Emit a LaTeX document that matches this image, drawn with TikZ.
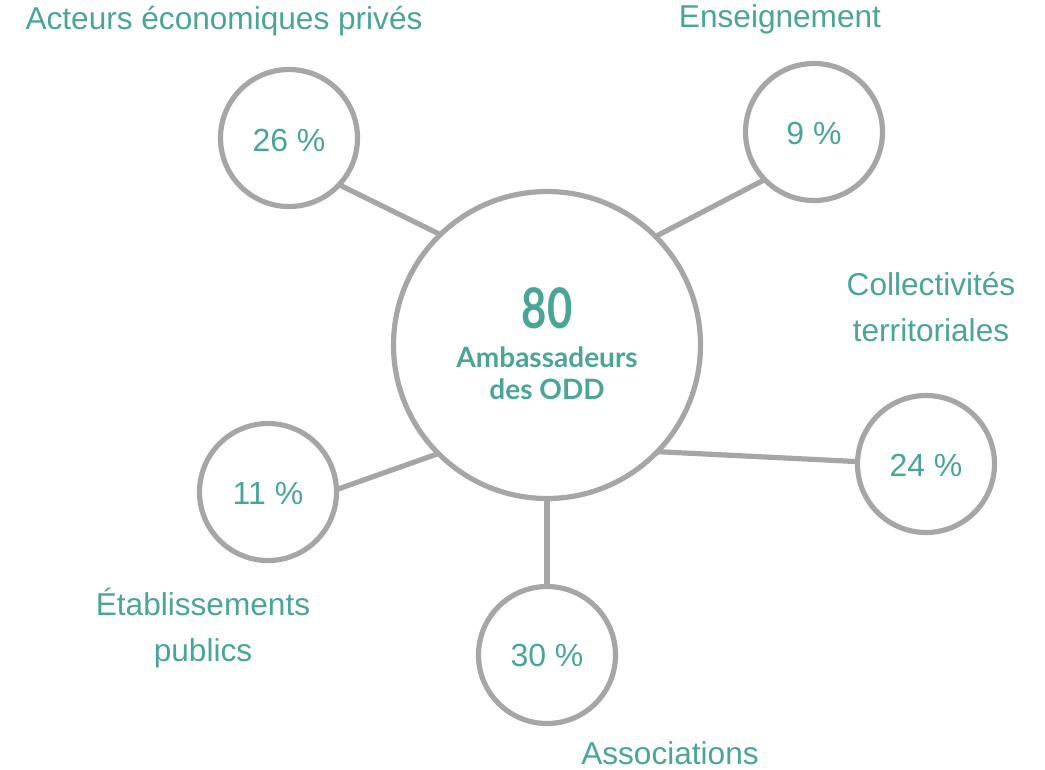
\documentclass[tikz,border=0pt]{standalone}
\usepackage{fontspec}
\setmainfont{Liberation Sans}
\newfontfamily\latofont{Lato}
\definecolor{teal1}{HTML}{4BA597}
\definecolor{gray1}{HTML}{A6A6A6}
\begin{document}
\begin{tikzpicture}[x=0.75pt,y=-0.75pt,
  ring/.style={circle,draw=gray1,line width=3.9pt,outer sep=0pt,inner sep=0pt},
  small/.style={ring,minimum size=102.75pt},
  big/.style={ring,minimum size=230.25pt},
  link/.style={draw=gray1,line width=3.9pt},
  lab/.style={text=teal1,font=\fontsize{23.7pt}{34.5pt}\selectfont,align=center,inner sep=0pt},
  pct/.style={text=teal1,font=\fontsize{24pt}{28pt}\selectfont,inner sep=0pt}]
\useasboundingbox (0,0) rectangle (1045,769);
\node[big] (c) at (547,345) {};
\node[small] (a) at (289,138) {};
\node[small] (e) at (814,132) {};
\node[small] (t) at (926,464) {};
\node[small] (s) at (547,655) {};
\node[small] (p) at (268,492) {};
\draw[link] (c.134.7) -- (a.-43.9);
\draw[link] (c.45) -- (e.224.4);
\draw[link] (c.-44.7) -- (t.178);
\draw[link] (c.-90) -- (s.90);
\draw[link] (c.225) -- (p.2);
\node[pct] (a1) at (289,140) {26 \%};
\node[pct] (e1) at (814,133) {9 \%};
\node[pct] (t1) at (926,465) {24 \%};
\node[pct] (s1) at (547,655) {30 \%};
\node[pct] (p1) at (268,493) {11 \%};
\node[lab] (a2) at (224,21) {Acteurs économiques privés};
\node[lab] (e2) at (780,19) {Enseignement};
\node[lab] (t2) at (931,307) {Collectivités\\territoriales};
\node[lab] (p2) at (203,628) {Établissements\\publics};
\node[lab] (s2) at (670,753) {Associations};
\node[text=teal1,font=\latofont\bfseries\fontsize{42pt}{42pt}\selectfont,inner sep=0pt] (n80) at (547,308) {\scalebox{0.78}[1]{80}};
\node[text=teal1,font=\latofont\bfseries\fontsize{21pt}{24pt}\selectfont,align=center,inner sep=0pt] (amb) at (547,373) {Ambassadeurs\\des ODD};
\end{tikzpicture}
\end{document}
